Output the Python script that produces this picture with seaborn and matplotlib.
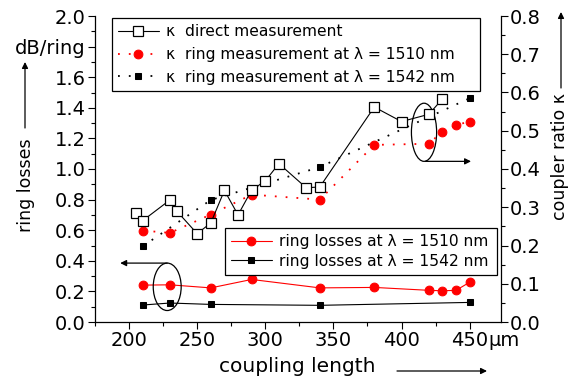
import matplotlib
matplotlib.use("Agg")
import matplotlib.pyplot as plt
import seaborn as sns
from matplotlib.patches import Ellipse, FancyArrowPatch
from matplotlib.ticker import MultipleLocator, FixedLocator, FixedFormatter

# coupler ratio kappa, direct measurement (right axis)
direct_len = [205, 210, 230, 235, 250, 260, 270, 280, 290, 300, 310, 330, 340, 380, 400, 420, 430]
direct_kappa = [0.285, 0.265, 0.319, 0.290, 0.231, 0.259, 0.344, 0.280, 0.345, 0.369, 0.414, 0.351, 0.353, 0.562, 0.524, 0.543, 0.583]

# coupler ratio kappa from ring measurements (right axis)
ring1510_len = [210, 230, 260, 290, 340, 380, 420, 430, 440, 450]
ring1510_kappa = [0.239, 0.233, 0.281, 0.333, 0.320, 0.463, 0.466, 0.498, 0.515, 0.524]
ring1542_len = [210, 260, 340, 450]
ring1542_kappa = [0.198, 0.319, 0.405, 0.585]

# ring losses in dB/ring (left axis)
loss1510_len = [210, 230, 260, 290, 340, 380, 420, 430, 440, 450]
loss1510_db = [0.241, 0.243, 0.223, 0.278, 0.223, 0.226, 0.207, 0.204, 0.207, 0.260]
loss1542_len = [210, 230, 260, 340, 450]
loss1542_db = [0.111, 0.124, 0.115, 0.109, 0.128]

left_ticks = [0.0, 0.2, 0.4, 0.6, 0.8, 1.0, 1.2, 1.4, 1.6, 1.8, 2.0]
left_labels = ["0.0", "0.2", "0.4", "0.6", "0.8", "1.0", "1.2", "1.4", "1.6", "dB/ring", "2.0"]
x_ticks = [200, 250, 300, 350, 400, 450]
x_labels = ["200", "250", "300", "350", "400", "450"]

sns.set_style("ticks")
plt.rcParams["font.family"] = ["DejaVu Sans"]
plt.rcParams["axes.linewidth"] = 0.9
for key in ("text.color", "axes.labelcolor", "xtick.color", "ytick.color", "axes.edgecolor"):
    plt.rcParams[key] = "black"

fig = plt.figure(figsize=(5.73, 3.78), dpi=100)
ax = fig.add_axes([95 / 573, 1 - 322 / 378, 406 / 573, 306 / 378])
ax2 = ax.twinx()

RED = "#ff0000"
dotted = (0, (1, 5))

# ring losses (left axis)
sns.lineplot(x=loss1510_len, y=loss1510_db, ax=ax, color=RED, lw=0.8, marker="o",
             markersize=6.3, markeredgecolor=RED, markerfacecolor=RED,
             sort=False, estimator=None, legend=False)
sns.lineplot(x=loss1542_len, y=loss1542_db, ax=ax, color="black", lw=0.8, marker="s",
             markersize=4.8, markeredgecolor="black", markerfacecolor="black",
             sort=False, estimator=None, legend=False)

# coupler ratio (right axis)
sns.lineplot(x=direct_len, y=direct_kappa, ax=ax2, color="black", lw=0.8, marker="s",
             markersize=6.6, markeredgecolor="black", markerfacecolor="white",
             markeredgewidth=0.9, sort=False, estimator=None, legend=False, zorder=3)
sns.lineplot(x=ring1510_len, y=ring1510_kappa, ax=ax2, color=RED, lw=1.3, linestyle=dotted,
             marker="o", markersize=6.3, markeredgecolor=RED, markerfacecolor=RED,
             sort=False, estimator=None, legend=False, zorder=2)
sns.lineplot(x=ring1542_len, y=ring1542_kappa, ax=ax2, color="black", lw=1.3, linestyle=dotted,
             marker="s", markersize=4.8, markeredgecolor="black", markerfacecolor="black",
             sort=False, estimator=None, legend=False, zorder=2)

ax.set_xlim(175, 473)
ax.set_ylim(0, 2.0)
ax2.set_ylim(0, 0.8)

ax.xaxis.set_major_locator(FixedLocator(x_ticks))
ax.xaxis.set_major_formatter(FixedFormatter(x_labels))
ax.xaxis.set_minor_locator(MultipleLocator(25))
ax.yaxis.set_major_locator(FixedLocator(left_ticks))
ax.yaxis.set_major_formatter(FixedFormatter(left_labels))
ax.yaxis.set_minor_locator(MultipleLocator(0.1))
ax2.yaxis.set_major_locator(MultipleLocator(0.1))
ax2.yaxis.set_minor_locator(MultipleLocator(0.05))

for a in (ax, ax2):
    a.tick_params(which="major", direction="out", length=5, width=0.8, labelsize=14, pad=1.5)
    a.tick_params(which="minor", direction="out", length=3, width=0.8)
    a.spines["top"].set_visible(False)
ax.spines["right"].set_visible(False)
ax2.spines["left"].set_visible(False)
ax2.spines["bottom"].set_visible(False)
ax.set_xlabel("")
ax.set_ylabel("")
ax2.set_ylabel("")

# unit after the last x tick label
ax.annotate("µm", xy=(450, 0), xycoords=("data", "axes fraction"),
            xytext=(13.5, -6.5), textcoords="offset points", ha="left", va="top", fontsize=14)

# axis titles with direction arrows
fig.text(26 / 573, 1 - 185 / 378, "ring losses", rotation=90, ha="center", va="center", fontsize=12.5)
fig.text(560 / 573, 1 - 157 / 378, "coupler ratio κ", rotation=90, ha="center", va="center", fontsize=12.5)
fig.text(297 / 573, 1 - 367 / 378, "coupling length", ha="center", va="center", fontsize=14.5)

arrow_kw = dict(arrowstyle="-|>", color="black", lw=0.9, mutation_scale=9, shrinkA=0, shrinkB=0)
fig.add_artist(FancyArrowPatch((25 / 573, 1 - 128 / 378), (25 / 573, 1 - 62 / 378),
                               transform=fig.transFigure, **arrow_kw))
fig.add_artist(FancyArrowPatch((561 / 573, 1 - 88 / 378), (561 / 573, 1 - 12 / 378),
                               transform=fig.transFigure, **arrow_kw))
fig.add_artist(FancyArrowPatch((397 / 573, 1 - 371 / 378), (487 / 573, 1 - 371 / 378),
                               transform=fig.transFigure, **arrow_kw))

# ellipses marking which curves belong to which axis
ax.add_patch(Ellipse((416.5, 1.24), 18.5, 0.38, fill=False, ec="black", lw=0.9, zorder=5))
ax.annotate("", xy=(451, 1.05), xytext=(417.5, 1.05), arrowprops=arrow_kw, zorder=5)
ax.add_patch(Ellipse((228, 0.23), 20.5, 0.31, fill=False, ec="black", lw=0.9, zorder=5))
ax.annotate("", xy=(193.5, 0.385), xytext=(228, 0.385), arrowprops=arrow_kw, zorder=5)

# legends
h_direct, h_r1510, h_r1542 = ax2.lines[0], ax2.lines[1], ax2.lines[2]
h_l1510, h_l1542 = ax.lines[0], ax.lines[1]
leg_kw = dict(fontsize=11.2, frameon=True, fancybox=False, framealpha=1, edgecolor="black",
              borderaxespad=0, numpoints=1, handlelength=2.6, handletextpad=0.45,
              borderpad=0.4, mode="expand")
leg1 = ax2.legend([h_direct, h_r1510, h_r1542],
                  ["κ  direct measurement", "κ  ring measurement at λ = 1510 nm",
                   "κ  ring measurement at λ = 1542 nm"],
                  loc="upper left", bbox_to_anchor=(17 / 406, 304 / 306 - 0.3, 368 / 406, 0.3),
                  labelspacing=0.5, **leg_kw)
leg1.get_frame().set_linewidth(0.9)
ax2.add_artist(leg1)
leg2 = ax2.legend([h_l1510, h_l1542],
                  ["ring losses at λ = 1510 nm", "ring losses at λ = 1542 nm"],
                  loc="upper left", bbox_to_anchor=(130 / 406, 94 / 306 - 0.2, 272 / 406, 0.2),
                  labelspacing=0.3, **leg_kw)
leg2.get_frame().set_linewidth(0.9)

fig.savefig("out.png", dpi=100)
